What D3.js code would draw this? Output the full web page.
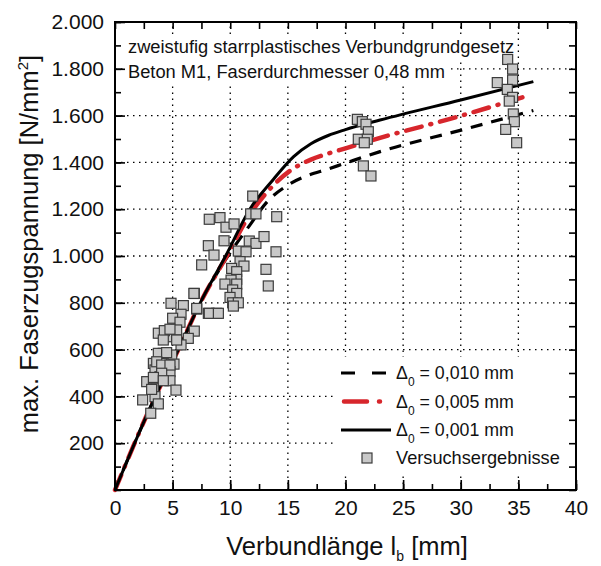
<!DOCTYPE html>
<html>
<head>
<meta charset="utf-8">
<script src="https://cdn.jsdelivr.net/npm/d3@7"></script>
<style>
  body { margin: 0; background: #fff; }
  svg { display: block; font-family: "Liberation Sans", Arial, sans-serif; }
</style>
</head>
<body>
<div id="chart"></div>
<script>
// Verbundlänge [mm] / max. Faserzugspannung [N/mm²]
const xMajor = [0, 5, 10, 15, 20, 25, 30, 35, 40];
const yMajor = [200, 400, 600, 800, 1000, 1200, 1400, 1600, 1800, 2000];

// model curves
const curveD010 = [[0,0],[3.5,400],[5.5,600],[7.4,800],[9.6,985],[11.7,1132],[13.2,1232],[14.9,1300],[16.5,1340],[18.5,1372],[20,1397],[23,1446],[30.2,1540],[36.3,1622]];
const curveD005 = [[0,0],[3.5,400],[5.5,600],[7.4,800],[9.7,1000],[11.6,1170],[13.7,1300],[15.3,1368],[17,1412],[18.5,1438],[20,1460],[23,1505],[29,1585],[36,1688]];
const curveD001 = [[0,0],[3.5,400],[5.5,600],[7.4,800],[9.6,1000],[11.7,1200],[13.7,1325],[15.5,1425],[17,1480],[18.5,1515],[20,1540],[23,1581],[30,1667],[36.3,1745]];

// test results
const testLb = [6.88,4.86,5.93,7.09,8.1,8.82,5.73,5.0,5.64,6.88,5.35,3.76,4.48,6.36,5.73,4.92,4.19,3.33,5.12,3.47,4.77,3.9,2.75,4.77,3.33,5.29,2.4,3.47,3.76,3.1,
  4.28,4.77,4.19,5.35,3.76,4.48,3.62,4.05,4.77,4.05,3.33,4.19,3.18,
  11.95,8.18,9.11,9.63,10.33,11.77,12.23,14.03,9.46,8.1,8.59,11.65,12.23,12.93,10.7,11.37,13.97,7.52,10.85,11.19,10.12,10.56,13.1,10.56,10.07,9.54,10.56,13.3,10.21,10.56,6.85,9.98,10.21,10.7,10.27,7.09,8.18,8.97,
  21.03,21.46,21.78,21.98,21.11,21.89,21.63,21.55,22.21,
  34.07,34.5,33.17,34.5,34.04,34.5,34.21,34.56,34.65,33.9,34.85];
const testSigma = [840,798,788,773,755,755,751,734,717,679,684,670,655,648,620,577,584,541,538,513,506,484,463,467,435,427,385,399,368,328,
  681,687,641,641,584,587,548,534,534,499,481,467,430,
  1256,1157,1164,1123,1137,1180,1180,1168,1065,1044,1004,1064,1054,1083,1021,1018,1018,962,976,957,947,933,943,900,897,880,880,872,855,840,840,823,800,800,786,776,755,755,
  1584,1574,1563,1531,1499,1499,1484,1385,1342,
  1840,1799,1741,1752,1712,1678,1662,1607,1574,1541,1484];

const titleLines = ["zweistufig starrplastisches Verbundgrundgesetz", "Beton M1, Faserdurchmesser 0,48 mm"];
const legendLabels = ["= 0,010 mm", "= 0,005 mm", "= 0,001 mm"];

const W = 601, H = 566;
const x = d3.scaleLinear([0, 40], [115, 576]);
const y = d3.scaleLinear([0, 2000], [490, 22]);
const fmt = d3.formatLocale({ decimal: ",", thousands: ".", grouping: [3], currency: ["", ""] }).format(",d");

const svg = d3.select("#chart").append("svg").attr("width", W).attr("height", H);

// grid
const grid = svg.append("g").attr("stroke", "#000").attr("stroke-width", 1.3).attr("stroke-dasharray", "1.5,4.5");
grid.selectAll(".gx").data(xMajor.slice(1, -1)).join("line")
  .attr("x1", d => x(d)).attr("x2", d => x(d)).attr("y1", y(0)).attr("y2", y(2000));
grid.selectAll(".gy").data(yMajor.slice(0, -1)).join("line")
  .attr("y1", d => y(d)).attr("y2", d => y(d)).attr("x1", x(0)).attr("x2", x(40));

// title box
const tb = svg.append("g");
titleLines.forEach((t, i) => {
  const g = tb.append("g");
  const txt = g.append("text").attr("x", 128).attr("y", 53 + i * 25).attr("font-size", 18.3).attr("fill", "#111").text(t);
  const bb = txt.node().getBBox();
  g.insert("rect", "text").attr("x", bb.x - 3).attr("y", bb.y - 1).attr("width", bb.width + 5).attr("height", bb.height + 2).attr("fill", "#fff");
});

// curves
const line = d3.line().x(d => x(d[0])).y(d => y(d[1])).curve(d3.curveMonotoneX);
const styles = [
  { data: curveD010, color: "#000", width: 3.2, dash: "12,9", cap: "butt", legDash: "14,17" },
  { data: curveD005, color: "#d7262c", width: 4.5, dash: "16,9,1,9", cap: "round", legDash: "23,12,1,12" },
  { data: curveD001, color: "#000", width: 3, dash: null, cap: "butt", legDash: null }
];
styles.forEach(s => {
  svg.append("path").attr("d", line(s.data)).attr("fill", "none")
    .attr("stroke", s.color).attr("stroke-width", s.width)
    .attr("stroke-dasharray", s.dash).attr("stroke-linecap", s.cap);
});

// test points
const sq = 10;
svg.append("g").selectAll("rect").data(d3.range(testLb.length)).join("rect")
  .attr("x", i => x(testLb[i]) - sq / 2).attr("y", i => y(testSigma[i]) - sq / 2)
  .attr("width", sq).attr("height", sq)
  .attr("fill", "#c8c8c8").attr("stroke", "#3c3c3c").attr("stroke-width", 1.2);

// legend
const lg = svg.append("g");
lg.append("rect").attr("x", 336).attr("y", 357).attr("width", x(40) - 337).attr("height", 116).attr("fill", "#fff");
styles.forEach((s, i) => {
  const yy = 373 + i * 28.5;
  lg.append("line").attr("x1", s.cap === "round" ? 344 : 341).attr("x2", 391).attr("y1", yy).attr("y2", yy)
    .attr("stroke", s.color).attr("stroke-width", s.width)
    .attr("stroke-dasharray", s.legDash)
    .attr("stroke-linecap", s.cap);
  const t = lg.append("text").attr("x", 396).attr("y", yy + 6).attr("font-size", 17.8).attr("fill", "#111");
  t.append("tspan").text("Δ");
  t.append("tspan").attr("font-size", 12).attr("dy", 7).text("0");
  t.append("tspan").attr("dy", -7).text(" " + legendLabels[i]);
});
lg.append("rect").attr("x", 367 - sq / 2).attr("y", 458 - sq / 2).attr("width", sq).attr("height", sq)
  .attr("fill", "#c8c8c8").attr("stroke", "#3c3c3c").attr("stroke-width", 1.2);
lg.append("text").attr("x", 396).attr("y", 464).attr("font-size", 18.2).attr("fill", "#111").text("Versuchsergebnisse");

// axes
function styleAxis(g) {
  g.select(".domain").remove();
  g.selectAll("line").attr("stroke", "#000").attr("stroke-width", 1.6);
  g.selectAll("text").attr("font-size", 21).attr("fill", "#111").attr("font-family", "Liberation Sans, Arial, sans-serif");
}
const minorX = d3.range(0, 40.01, 2.5), minorY = d3.range(0, 2000.1, 100);
svg.append("g").attr("transform", `translate(0,${y(0)})`)
  .call(d3.axisBottom(x).tickValues(minorX).tickSize(-6).tickFormat("")).call(styleAxis);
svg.append("g").attr("transform", `translate(0,${y(0)})`)
  .call(d3.axisBottom(x).tickValues(xMajor).tickSize(-10).tickPadding(10).tickFormat(d3.format("d"))).call(styleAxis);
svg.append("g").attr("transform", `translate(0,${y(2000)})`)
  .call(d3.axisTop(x).tickValues(minorX).tickSize(-7).tickFormat("")).call(styleAxis);
svg.append("g").attr("transform", `translate(${x(0)},0)`)
  .call(d3.axisLeft(y).tickValues(minorY).tickSize(-6).tickFormat("")).call(styleAxis);
svg.append("g").attr("transform", `translate(${x(0)},0)`)
  .call(d3.axisLeft(y).tickValues(yMajor).tickSize(-10).tickPadding(11).tickFormat(fmt)).call(styleAxis);
svg.append("g").attr("transform", `translate(${x(40)},0)`)
  .call(d3.axisRight(y).tickValues(minorY).tickSize(-7).tickFormat("")).call(styleAxis);

svg.append("rect").attr("x", x(0)).attr("y", y(2000)).attr("width", x(40) - x(0)).attr("height", y(0) - y(2000))
  .attr("fill", "none").attr("stroke", "#000").attr("stroke-width", 2);

// axis titles
const xt = svg.append("text").attr("x", 347).attr("y", 555).attr("text-anchor", "middle").attr("font-size", 25.5).attr("fill", "#111");
xt.append("tspan").text("Verbundlänge l");
xt.append("tspan").attr("font-size", 14).attr("dy", 6).text("b");
xt.append("tspan").attr("dy", -6).text(" [mm]");

const yt = svg.append("text").attr("transform", `translate(38,${244}) rotate(-90)`).attr("text-anchor", "middle").attr("font-size", 25.5).attr("fill", "#111");
yt.append("tspan").text("max. Faserzugspannung [N/mm");
yt.append("tspan").attr("font-size", 15).attr("dy", -10).text("2");
yt.append("tspan").attr("dy", 10).text("]");
</script>
</body>
</html>
